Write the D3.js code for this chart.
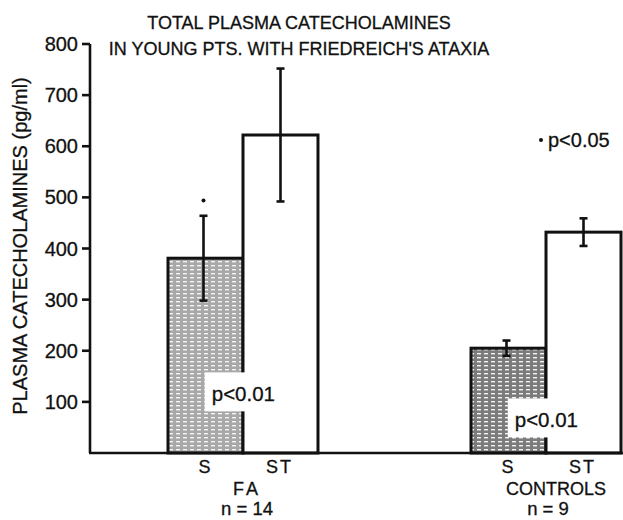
<!DOCTYPE html>
<html><head><meta charset="utf-8">
<script src="https://cdn.jsdelivr.net/npm/d3@7"></script>
<style>
body{margin:0;background:#fff;}
text{font-family:"Liberation Sans",Arial,sans-serif;fill:#111;stroke:#111;stroke-width:0.3px;}
</style></head>
<body>
<svg id="c" width="623" height="520"></svg>
<script>
// ---- data ----
const titleLines = ["TOTAL PLASMA CATECHOLAMINES", "IN YOUNG PTS. WITH FRIEDREICH'S ATAXIA"];
const yAxisTitle = "PLASMA CATECHOLAMINES (pg/ml)";
const groups = ["FA", "CONTROLS"];
const groupN = ["n = 14", "n = 9"];
const conditions = ["S", "ST"];
const faMeans = [381, 622];
const faErrors = [83, 130];
const controlMeans = [205, 432];
const controlErrors = [15, 27];
const yTicks = [100, 200, 300, 400, 500, 600, 700, 800];
const pInBars = ["p<0.01", "p<0.01"];
const pInBarsAt = [101, 50];      // value level of the p-label baselines
const pBetween = "p<0.05";
const pBetweenAt = 612;

const svg = d3.select("#c");
const ink = "#111";

const y = d3.scaleLinear().domain([0, 800]).range([453, 44]);
const x0 = d3.scaleBand().domain(groups).range([168, 621]).paddingInner(0.505).paddingOuter(0);
const x1 = d3.scaleBand().domain(conditions).range([0, x0.bandwidth()]);

const rows = [];
groups.forEach((g, gi) => {
  const m = gi === 0 ? faMeans : controlMeans;
  const e = gi === 0 ? faErrors : controlErrors;
  conditions.forEach((c, ci) => rows.push({g, gi, c, ci, mean: m[ci], err: e[ci]}));
});

// patterns
const defs = svg.append("defs");
function mkPattern(id, bg) {
  const p = defs.append("pattern").attr("id", id).attr("patternUnits", "userSpaceOnUse")
    .attr("width", 7).attr("height", 4);
  p.append("rect").attr("width", 7).attr("height", 4).attr("fill", bg);
  p.append("rect").attr("x", 1).attr("y", 1).attr("width", 4).attr("height", 1.4).attr("fill", "#f4f4f4");
}
mkPattern("patFA", "#a8a8a8");
mkPattern("patCT", "#7c7c7c");

// Title
svg.append("g").selectAll("text").data(titleLines).join("text")
  .attr("x", 299).attr("y", (d, i) => 29 + i * 26)
  .attr("text-anchor", "middle").attr("font-size", 18).text(d => d);

// bars
const barG = svg.append("g");
barG.selectAll("rect").data(rows).join("rect")
  .attr("x", d => x0(d.g) + x1(d.c))
  .attr("y", d => y(d.mean))
  .attr("width", x1.bandwidth())
  .attr("height", d => y(0) - y(d.mean))
  .attr("fill", d => d.c === "S" ? (d.gi === 0 ? "url(#patFA)" : "url(#patCT)") : "#fff")
  .attr("stroke", ink).attr("stroke-width", 3);

// error bars
const eb = svg.append("g").attr("stroke", ink).attr("stroke-width", 2.6);
rows.forEach(d => {
  const cx = x0(d.g) + x1(d.c) + x1.bandwidth() / 2 - (d.c === "S" ? 2 : 0);
  eb.append("line").attr("x1", cx).attr("x2", cx).attr("y1", y(d.mean + d.err)).attr("y2", y(d.mean - d.err));
  [d.mean + d.err, d.mean - d.err].forEach(v =>
    eb.append("line").attr("x1", cx - 4).attr("x2", cx + 4).attr("y1", y(v)).attr("y2", y(v)));
});

// p<0.01 labels with white boxes
pInBars.forEach((t, gi) => {
  const g = groups[gi];
  const boxX = x0(g) + x1("S") + x1.bandwidth() * 0.49;
  const base = y(pInBarsAt[gi]);
  svg.append("rect").attr("x", boxX).attr("y", base - 29).attr("width", 77).attr("height", 39).attr("fill", "#fff");
  svg.append("text").attr("x", boxX + 7).attr("y", base).attr("font-size", 20.5).text(t);
});

// significance dots
const sFA = rows[0];
svg.append("circle").attr("cx", x0("FA") + x1("S") + x1.bandwidth() / 2 - 2)
  .attr("cy", y(sFA.mean + sFA.err + 30)).attr("r", 2).attr("fill", ink);
svg.append("circle").attr("cx", 541).attr("cy", y(pBetweenAt)).attr("r", 2).attr("fill", ink);
svg.append("text").attr("x", 548).attr("y", y(pBetweenAt) + 7).attr("font-size", 20).text(pBetween);

// axes
const ax = svg.append("g").attr("stroke", ink).attr("stroke-width", 2.6);
ax.append("line").attr("x1", 90).attr("x2", 90).attr("y1", y(800)).attr("y2", y(0));
ax.append("line").attr("x1", 89).attr("x2", 623).attr("y1", y(0)).attr("y2", y(0));
ax.selectAll("line.t").data(yTicks).join("line").attr("class", "t")
  .attr("x1", 82).attr("x2", 90).attr("y1", d => y(d)).attr("y2", d => y(d));
svg.append("g").selectAll("text").data(yTicks).join("text")
  .attr("x", 78).attr("y", d => y(d) + 7).attr("text-anchor", "end")
  .attr("font-size", 20).text(d => d);

svg.append("text").attr("transform", "translate(27,246) rotate(-90)")
  .attr("text-anchor", "middle").attr("font-size", 20).text(yAxisTitle);

// x labels
rows.forEach(d => {
  svg.append("text").attr("x", x0(d.g) + x1(d.c) + x1.bandwidth() / 2 - 1)
    .attr("y", 473).attr("text-anchor", "middle").attr("font-size", 18)
    .attr("letter-spacing", d.c === "ST" ? 2 : 0).text(d.c);
});
groups.forEach((g, i) => {
  const cx = x0(g) + x0.bandwidth() / 2 + (i === 0 ? 4 : 10);
  svg.append("text").attr("x", cx).attr("y", 495).attr("text-anchor", "middle")
    .attr("font-size", 18).attr("letter-spacing", i === 0 ? 3 : 0).text(g);
  svg.append("text").attr("x", cx - (i === 0 ? 0 : 8)).attr("y", 515).attr("text-anchor", "middle")
    .attr("font-size", 18.5).text(groupN[i]);
});
</script>
</body></html>
